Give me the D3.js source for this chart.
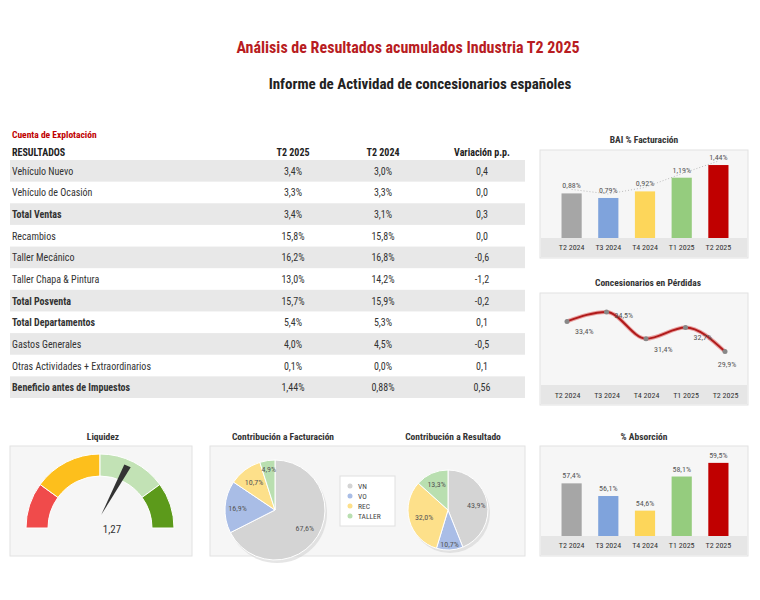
<!DOCTYPE html><html><head><meta charset="utf-8">
<script src="https://cdn.jsdelivr.net/npm/d3@7"></script>
<style>body{margin:0;background:#fff}text{font-family:"Roboto Condensed","Liberation Sans Narrow","Roboto",sans-serif}</style></head><body>
<svg id="c" width="760" height="600"></svg>
<script>
const rowLabels=["Vehículo Nuevo","Vehículo de Ocasión","Total Ventas","Recambios","Taller Mecánico","Taller Chapa & Pintura","Total Posventa","Total Departamentos","Gastos Generales","Otras Actividades + Extraordinarios","Beneficio antes de Impuestos"];
const boldRows=[false,false,true,false,false,false,true,true,false,false,true];
const colT2025=["3,4%","3,3%","3,4%","15,8%","16,2%","13,0%","15,7%","5,4%","4,0%","0,1%","1,44%"];
const colT2024=["3,0%","3,3%","3,1%","15,8%","16,8%","14,2%","15,9%","5,3%","4,5%","0,0%","0,88%"];
const colVar=["0,4","0,0","0,3","0,0","-0,6","-1,2","-0,2","0,1","-0,5","0,1","0,56"];
const quarters=["T2 2024","T3 2024","T4 2024","T1 2025","T2 2025"];
const baiValues=[0.88,0.79,0.92,1.19,1.44];
const baiLabels=["0,88%","0,79%","0,92%","1,19%","1,44%"];
const perdValues=[33.4,34.5,31.4,32.7,29.9];
const perdLabels=["33,4%","34,5%","31,4%","32,7%","29,9%"];
const absValues=[57.4,56.1,54.6,58.1,59.5];
const absLabels=["57,4%","56,1%","54,6%","58,1%","59,5%"];
const barColors=["#a6a6a6","#7fa3dc","#fdd65a","#95cc7e","#c00000"];
const pieCats=["VN","VO","REC","TALLER"];
const pieColors=["#d4d4d4","#a9bde6","#fde08a","#b9dfb0"];
const factValues=[67.6,16.9,10.7,4.9];
const factLabels=["67,6%","16,9%","10,7%","4,9%"];
const resValues=[43.9,10.7,32.0,13.3];
const resLabels=["43,9%","10,7%","32,0%","13,3%"];
const liquidez=1.27;
const gaugeBands=[[0,0.4,"#f04b4b"],[0.4,1.0,"#fdbf1c"],[1.0,1.6,"#c2e2b5"],[1.6,2.0,"#5c9a1b"]];

const svg=d3.select("#c");
svg.append("text").attr("x",408).attr("y",53).attr("text-anchor","middle").attr("fill","#b81c22").attr("font-size",16).attr("font-weight","bold").text("Análisis de Resultados acumulados Industria T2 2025");
svg.append("text").attr("x",420).attr("y",89).attr("text-anchor","middle").attr("fill","#222").attr("font-size",15).attr("font-weight","bold").text("Informe de Actividad de concesionarios españoles");

svg.append("text").attr("x",12).attr("y",138).attr("fill","#c00000").attr("font-size",9.5).attr("font-weight","bold").text("Cuenta de Explotación");
const hy=156;
[["RESULTADOS",12,"start"],["T2 2025",293,"middle"],["T2 2024",383,"middle"],["Variación p.p.",482,"middle"]].forEach(h=>svg.append("text").attr("x",h[1]).attr("y",hy).attr("text-anchor",h[2]).attr("font-size",10).attr("font-weight","bold").attr("fill","#222").text(h[0]));
const ry=d3.scaleBand().domain(d3.range(rowLabels.length)).range([160,398]);
rowLabels.forEach((l,i)=>{
 const y=ry(i);
 if(i%2===0) svg.append("rect").attr("x",10).attr("y",y).attr("width",515).attr("height",ry.bandwidth()).attr("fill","#e8e8e8");
 const ty=y+ry.bandwidth()/2+4;
 const fw=boldRows[i]?"bold":"normal";
 svg.append("text").attr("x",12).attr("y",ty).attr("font-size",10).attr("font-weight",fw).attr("fill","#333").text(l);
 [[colT2025[i],293],[colT2024[i],383],[colVar[i],482]].forEach(c=>svg.append("text").attr("x",c[1]).attr("y",ty).attr("text-anchor","middle").attr("font-size",10).attr("fill","#333").text(c[0]));
});

function panelTitle(x,y,t){svg.append("text").attr("x",x).attr("y",y).attr("text-anchor","middle").attr("font-size",9.5).attr("font-weight","bold").attr("fill","#333").text(t);}
function panel(x,y,w,h){svg.append("rect").attr("x",x).attr("y",y).attr("width",w).attr("height",h).attr("fill","#f6f6f6").attr("stroke","#e2e2e2");}

function barChart(y0,y1,vals,labels,dom,title,ty,trend){
 panelTitle(644,ty,title);
 panel(540,y0,208,y1-y0);
 const x=d3.scaleBand().domain(quarters).range([545,745]).padding(0.45);
 const base=y1-20;
 svg.append("rect").attr("x",541).attr("y",base).attr("width",206).attr("height",y1-base-1).attr("fill","#e6e6e6");
 const y=d3.scaleLinear().domain(dom).range([base,y0+12]);
 if(trend){svg.append("path").attr("d",d3.line().x((d,i)=>x(quarters[i])+x.bandwidth()/2).y(d=>y(d)-4)(vals)).attr("fill","none").attr("stroke","#bbb").attr("stroke-dasharray","1,2");}
 vals.forEach((v,i)=>{
  svg.append("rect").attr("x",x(quarters[i])).attr("y",y(v)).attr("width",x.bandwidth()).attr("height",base-y(v)).attr("fill",barColors[i]);
  svg.append("text").attr("x",x(quarters[i])+x.bandwidth()/2).attr("y",y(v)-5).attr("text-anchor","middle").attr("font-size",8).attr("fill","#555").text(labels[i]);
 });
 const ax=svg.append("g").attr("transform",`translate(0,${base})`).call(d3.axisBottom(x).tickSize(0).tickPadding(6));
 ax.select(".domain").remove();ax.selectAll("text").attr("font-size",8).attr("fill","#333");
}
barChart(150,258,baiValues,baiLabels,[0,1.5],"BAI % Facturación",143,true);
barChart(446,556,absValues,absLabels,[52,60],"% Absorción",440,false);

panelTitle(648,286,"Concesionarios en Pérdidas");
panel(540,293,208,112);
svg.append("rect").attr("x",541).attr("y",385).attr("width",206).attr("height",19).attr("fill","#e6e6e6");
const lx=d3.scalePoint().domain(quarters).range([567,725]);
const ly=d3.scaleLinear().domain([28,36]).range([368,299]);
const lpts=perdValues.map((v,i)=>[lx(quarters[i]),ly(v)]);
svg.append("path").attr("d",d3.line().curve(d3.curveMonotoneX)(lpts)).attr("fill","none").attr("stroke","#e8a0a0").attr("stroke-width",4);
svg.append("path").attr("d",d3.line().curve(d3.curveMonotoneX)(lpts)).attr("fill","none").attr("stroke","#b01a1a").attr("stroke-width",2);
lpts.forEach((p,i)=>{svg.append("circle").attr("cx",p[0]).attr("cy",p[1]).attr("r",2.5).attr("fill","#888");
 svg.append("text").attr("x",p[0]+(i===4?2:8)).attr("y",p[1]+(i===4?15:i===1?6:13)).attr("text-anchor",i===4?"middle":"start").attr("font-size",8).attr("fill","#555").text(perdLabels[i]);});
const lax=svg.append("g").attr("transform","translate(0,385)").call(d3.axisBottom(lx).tickSize(0).tickPadding(7));
lax.select(".domain").remove();lax.selectAll("text").attr("font-size",8).attr("fill","#333");

panelTitle(103,440,"Liquidez");
panel(10,446,182,110);
const gc=[100,528];
const ga=d3.scaleLinear().domain([0,2]).range([-Math.PI/2,Math.PI/2]);
const arc=d3.arc().innerRadius(52).outerRadius(74);
gaugeBands.forEach(b=>svg.append("path").attr("transform",`translate(${gc})`).attr("d",arc({startAngle:ga(b[0]),endAngle:ga(b[1])})).attr("fill",b[2]).attr("stroke","#fff").attr("stroke-width",1));
const na=ga(liquidez);
const tip=[gc[0]+68*Math.sin(na),gc[1]-68*Math.cos(na)];
const perp=[Math.cos(na),Math.sin(na)];
const bx=gc[0]+5*Math.sin(na), by=gc[1]-5*Math.cos(na)-8;
svg.append("path").attr("d",`M${bx-perp[0]*1},${by-perp[1]*1}L${tip[0]-perp[0]*4},${tip[1]-perp[1]*4}L${tip[0]+perp[0]*3},${tip[1]+perp[1]*3}Z`).attr("fill","#333");
svg.append("text").attr("x",gc[0]+12).attr("y",gc[1]+5).attr("text-anchor","middle").attr("font-size",11).attr("fill","#333").text("1,27");

panelTitle(283,440,"Contribución a Facturación");
panelTitle(453,440,"Contribución a Resultado");
panel(210,446,315,110);
function pie(cx,cy,r,vals,labels,lr){
 const arcs=d3.pie().sort(null)(vals);
 const a=d3.arc().innerRadius(0).outerRadius(r);
 const g=svg.append("g").attr("transform",`translate(${cx},${cy})`);
 g.append("ellipse").attr("cx",2).attr("cy",3).attr("rx",r).attr("ry",r).attr("fill","#ccc").attr("opacity",0.5);
 arcs.forEach((d,i)=>{g.append("path").attr("d",a(d)).attr("fill",pieColors[i]).attr("stroke","#fff").attr("stroke-width",1);
  const c=d3.arc().innerRadius(r*lr[i]).outerRadius(r*lr[i]).centroid(d);
  g.append("text").attr("x",c[0]).attr("y",c[1]+3).attr("text-anchor","middle").attr("font-size",8).attr("fill","#555").text(labels[i]);});
}
pie(275,510,50,factValues,factLabels,[0.7,0.75,0.7,0.82]);
pie(448,510,40,resValues,resLabels,[0.72,0.85,0.62,0.7]);
svg.append("rect").attr("x",340).attr("y",476).attr("width",55).attr("height",50).attr("fill","#fff").attr("stroke","#e0e0e0");
pieCats.forEach((c,i)=>{svg.append("circle").attr("cx",350).attr("cy",486+i*10).attr("r",2.5).attr("fill",pieColors[i]);
 svg.append("text").attr("x",358).attr("y",489+i*10).attr("font-size",7.5).attr("fill","#444").text(c);});
</script></body></html>
